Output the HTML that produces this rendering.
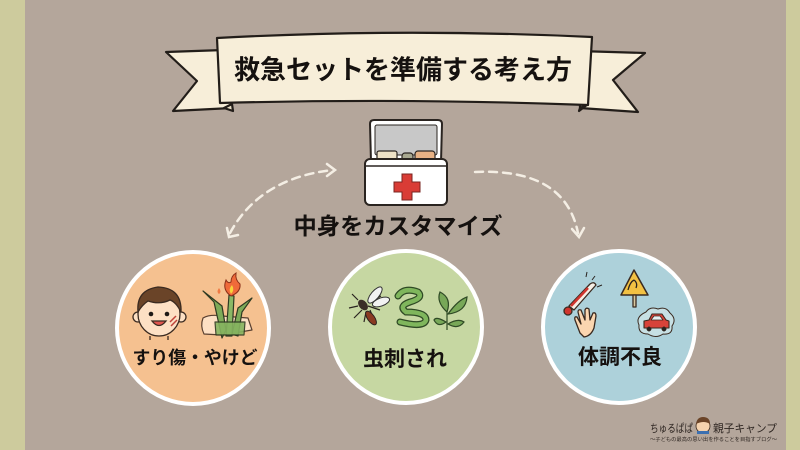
<!DOCTYPE html>
<html><head><meta charset="utf-8"><style>
html,body{margin:0;padding:0;}
body{width:800px;height:450px;overflow:hidden;background:#b4a69b;}
svg{display:block;}
text{font-family:"Liberation Sans","Noto Sans CJK JP",sans-serif;font-weight:700;fill:#15110f;}
</style></head><body>
<svg width="800" height="450" viewBox="0 0 800 450" xmlns="http://www.w3.org/2000/svg">
<rect x="0" y="0" width="800" height="450" fill="#b4a69b"/>
<rect x="0" y="0" width="25" height="450" fill="#cdcb9d"/>
<rect x="786" y="0" width="14" height="450" fill="#cdcb9d"/>

<!-- Banner -->
<g stroke="#221d19" stroke-width="2.2" stroke-linejoin="round" fill="#f7eed9">
  <path d="M166,52 L224,50 L232,108 L173,111 L197,81 Z"/>
  <path d="M578,51 L645,53 L613,80 L638,112 L580,108 Z"/>
  <path d="M224,108 L232,104 L233,111 Z" fill="#e9dfc6"/>
  <path d="M580,108 L588,104 L579,111 Z" fill="#e9dfc6"/>
  <path d="M217,38 Q400,28 592,37 L588,105 Q400,98 220,103 Z"/>
</g>
<text x="403" y="79" font-size="26.5" text-anchor="middle" textLength="338" lengthAdjust="spacingAndGlyphs">救急セットを準備する考え方</text>

<!-- First aid kit -->
<g stroke="#2a2420" stroke-width="2" stroke-linejoin="round">
  <path d="M371,162 L370,124 Q370,120 374,120 L438,120 Q442,120 442,124 L441,162 Z" fill="#ffffff"/>
  <rect x="375" y="125" width="62" height="30" rx="2" fill="#c8c8c8" stroke-width="1"/>
  <rect x="377" y="151" width="20" height="10" rx="2" fill="#eee2c6" stroke-width="1.2"/>
  <rect x="402" y="153" width="11" height="8" rx="3" fill="#a8a890" stroke-width="1.2"/>
  <rect x="415" y="151" width="20" height="10" rx="3" fill="#e7b184" stroke-width="1.2"/>
  <rect x="365" y="159" width="82" height="46" rx="5" fill="#ffffff"/>
  <path d="M365,166 L447,166" stroke-width="1.5"/>
</g>
<path d="M402,174 h10 v8 h8 v10 h-8 v8 h-10 v-8 h-8 v-10 h8 z" fill="#d93c36" stroke="#7a2420" stroke-width="1"/>

<text x="398" y="234" font-size="23" text-anchor="middle" textLength="209" lengthAdjust="spacingAndGlyphs">中身をカスタマイズ</text>

<!-- dashed arrows -->
<g fill="none" stroke="#f4eee4" stroke-width="2.5" stroke-linecap="round">
  <path d="M230,233 Q260,178 333,170" stroke-dasharray="8 6"/>
  <path d="M327,164 L335,170 L327,176"/>
  <path d="M227,228 L229,237 L238,235"/>
  <path d="M475,172 Q565,168 578,233" stroke-dasharray="8 6"/>
  <path d="M572,229 L579,237 L584,228"/>
</g>

<!-- circles -->
<circle cx="193" cy="328" r="76" fill="#f5c190" stroke="#ffffff" stroke-width="4"/>
<circle cx="406" cy="327" r="76" fill="#c6d7a2" stroke="#ffffff" stroke-width="4"/>
<circle cx="619" cy="327" r="76" fill="#add1da" stroke="#ffffff" stroke-width="4"/>

<!-- left icons: face -->
<g stroke="#3a2a20" stroke-width="1.3">
  <circle cx="138" cy="317" r="5" fill="#fde0c4"/>
  <circle cx="181" cy="317" r="5" fill="#fde0c4"/>
  <ellipse cx="159" cy="314" rx="21" ry="22" fill="#fde0c4"/>
  <path d="M138,312 Q136,290 158,287 Q182,288 181,312 Q176,302 170,300 Q160,305 148,301 Q142,305 138,312 Z" fill="#6a4428"/>
  <path d="M152,321 Q159,330 166,321 Z" fill="#e0564f"/>
  <path d="M170,322 l6,-6 M171,326 l6,-6" stroke="#c0453a" stroke-width="1.5"/>
  <path d="M150,336 L150,340 M168,336 L168,340"/>
</g>
<circle cx="151" cy="314" r="2.3" fill="#1e1a17"/>
<circle cx="167" cy="314" r="2.3" fill="#1e1a17"/>
<!-- hand + aloe + flame -->
<g stroke="#2f3a22" stroke-width="1.2" stroke-linejoin="round">
  <path d="M203,318 Q210,314 222,316 L248,318 L252,330 L222,335 L204,334 Q200,326 203,318 Z" fill="#fde0c4" stroke="#5a4030"/>
  <path d="M222,338 L214,302 L203,291 L222,306 L226,330 Z" fill="#7eab58"/>
  <path d="M226,336 L229,295 L234,296 L232,336 Z" fill="#8bb865"/>
  <path d="M232,334 L238,308 L252,298 L242,312 L238,336 Z" fill="#7eab58"/>
  <path d="M215,322 L245,322 L244,335 L216,335 Z" fill="#86b460" opacity="0.9"/>
</g>
<path d="M231,296 Q222,290 226,280 Q228,284 231,282 Q231,276 236,273 Q235,280 240,284 Q241,292 231,296 Z" fill="#ef6a3a" stroke="#8a2f18" stroke-width="1"/>
<path d="M231,294 Q228,289 232,285 Q235,290 231,294 Z" fill="#f7d23a"/>
<path d="M219,288 q-3,4 0,6 q3,-2 0,-6 z" fill="#ef7a44"/>

<!-- middle icons -->
<g stroke="#2a2420" stroke-width="1.2" fill="none">
  <path d="M358,300 l-6,-6 M358,306 l-9,2 M362,310 l-8,8 M366,312 l-2,10 M370,310 l4,10"/>
  <path d="M370,302 L381,296 M368,306 l12,4"/>
</g>
<ellipse cx="375" cy="295" rx="4" ry="10" transform="rotate(40 375 295)" fill="#f2f2f2" stroke="#333" stroke-width="1"/>
<ellipse cx="381" cy="302" rx="4" ry="9" transform="rotate(70 381 302)" fill="#f2f2f2" stroke="#333" stroke-width="1"/>
<ellipse cx="363" cy="305" rx="4" ry="6" transform="rotate(-40 363 305)" fill="#3a2e26"/>
<ellipse cx="371" cy="318" rx="3.5" ry="8" transform="rotate(-35 371 318)" fill="#8a3a22" stroke="#2a2420" stroke-width="1"/>
<path d="M398,296 Q404,287 418,292 Q424,298 410,302 Q398,306 406,312 Q426,312 426,320 Q424,328 400,322" fill="none" stroke="#2f4a25" stroke-width="7" stroke-linecap="round"/>
<path d="M398,296 Q404,287 418,292 Q424,298 410,302 Q398,306 406,312 Q426,312 426,320 Q424,328 400,322" fill="none" stroke="#7fb65c" stroke-width="4.5" stroke-linecap="round"/>
<g stroke="#2f4a25" stroke-width="1.2">
  <path d="M447,330 L447,310" fill="none"/>
  <path d="M447,312 Q436,302 440,292 Q452,298 447,312 Z" fill="#78a858"/>
  <path d="M448,314 Q458,300 467,297 Q466,312 448,314 Z" fill="#78a858"/>
  <path d="M446,322 Q436,316 434,320 Q438,328 446,322 Z" fill="#78a858"/>
  <path d="M448,324 Q458,318 464,322 Q458,330 448,324 Z" fill="#78a858"/>
</g>
<text x="405" y="366" font-size="21" text-anchor="middle" textLength="84" lengthAdjust="spacingAndGlyphs">虫刺され</text>

<!-- right icons -->
<g stroke="#3a2a20" stroke-width="1.3" stroke-linejoin="round">
  <path d="M569,306 L590,284 Q594,281 596,285 L574,310 Z" fill="#f6efe6"/>
  <path d="M571,306 L588,288" stroke="#d0352e" stroke-width="2.5"/>
  <circle cx="568" cy="311" r="4" fill="#d0352e"/>
  <path d="M580,333 L575,320 Q574,316 577,317 L581,324 L578,312 Q578,309 581,310 L585,320 L585,310 Q586,307 589,309 L590,320 L593,313 Q596,312 596,316 L594,328 Q591,336 584,337 Z" fill="#fbd6b0"/>
  <path d="M634,270 L648,295 L621,295 Z" fill="#f2c143" stroke-width="1.5"/>
  <rect x="633" y="295" width="3" height="12" fill="#d8c8a0"/>
  <path d="M646,312 Q650,306 658,309 Q666,306 670,313 Q677,319 672,326 Q673,335 663,334 Q656,339 648,334 Q638,334 639,325 Q635,317 646,312 Z" fill="#c7e0e4" stroke-width="1"/>
  <path d="M644,328 L644,321 L649,320 L652,314 L662,314 L666,320 L669,321 L669,328 Z" fill="#d8433a" stroke-width="1.1"/>
  <path d="M654,316 L660,316 L663,320 L651,320 Z" fill="#e8f0f2" stroke-width="0.8"/>
  <circle cx="649" cy="329" r="2.2" fill="#2a2420" stroke-width="0.5"/>
  <circle cx="664" cy="329" r="2.2" fill="#2a2420" stroke-width="0.5"/>
</g>
<path d="M628,290 q2,-8 6,-10 m0,0 q4,3 2,8" fill="none" stroke="#2a2420" stroke-width="1.3"/>
<path d="M592,280 l3,-4 M597,287 l5,-2 M586,277 l1,-5" stroke="#2a2420" stroke-width="1"/>
<text x="620" y="364" font-size="21" text-anchor="middle" textLength="84" lengthAdjust="spacingAndGlyphs">体調不良</text>

<text x="195" y="364" font-size="18" text-anchor="middle" textLength="125" lengthAdjust="spacingAndGlyphs">すり傷・やけど</text>

<!-- logo -->
<text x="650" y="432" font-size="11" style="font-weight:400;fill:#2e2622" textLength="43" lengthAdjust="spacingAndGlyphs">ちゅるぱぱ</text>
<circle cx="703" cy="426" r="7" fill="#f5d2ae" stroke="#3a2a20" stroke-width="0.8"/>
<path d="M696,424 Q697,417 703,417 Q710,417 710,424 Q704,420 696,424 Z" fill="#6b4428"/>
<rect x="697" y="431" width="12" height="3" fill="#3b6fb0"/>
<text x="713" y="432" font-size="11" style="font-weight:400;fill:#2e2622" textLength="64" lengthAdjust="spacingAndGlyphs">親子キャンプ</text>
<text x="650" y="441" font-size="5" style="font-weight:400;fill:#2e2622" textLength="127" lengthAdjust="spacingAndGlyphs">〜子どもの最高の思い出を作ることを目指すブログ〜</text>
</svg>
</body></html>
